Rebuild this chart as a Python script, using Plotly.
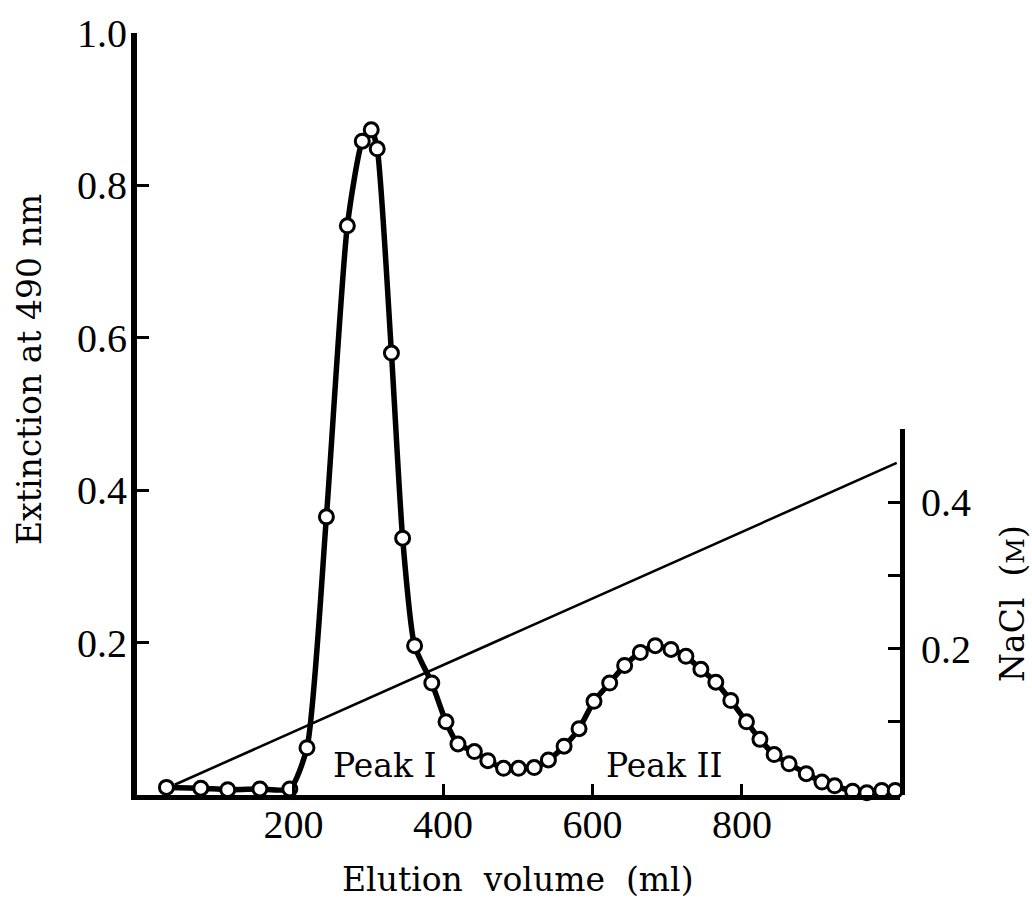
import plotly.graph_objects as go

# Elution profile (extinction at 490 nm) against elution volume
volume_ml = [30, 76, 112, 155, 195, 218, 244, 272, 292, 304, 312, 331, 346, 362, 385,
             404, 420, 442, 460, 481, 501, 522, 541, 562, 582, 602, 623, 643, 664, 684,
             705, 725, 745, 765, 785, 806, 824, 843, 863, 886, 907, 924, 948, 967, 987, 1005]
extinction = [0.010, 0.009, 0.007, 0.008, 0.008, 0.062, 0.365, 0.747, 0.858, 0.873,
              0.848, 0.580, 0.337, 0.196, 0.147, 0.096, 0.067, 0.057, 0.045, 0.035,
              0.035, 0.036, 0.046, 0.064, 0.087, 0.123, 0.147, 0.170, 0.187, 0.196,
              0.191, 0.182, 0.165, 0.148, 0.124, 0.096, 0.073, 0.053, 0.041, 0.028,
              0.017, 0.012, 0.005, 0.003, 0.006, 0.006]

# Linear NaCl gradient (right axis)
nacl_volume = [41, 1007]
nacl_molar = [0.014, 0.454]

x_ticks = [200, 400, 600, 800]
y_ticks = [0.2, 0.4, 0.6, 0.8, 1.0]
y_ticklabels = ["0.2", "0.4", "0.6", "0.8", "1.0"]
nacl_ticks = [0.1, 0.2, 0.3, 0.4, 0.5]
nacl_ticklabels = ["", "0.2", "", "0.4", ""]

peak_labels = ["Peak I", "Peak II"]
peak_label_x = [322, 696]
peak_label_y = [0.039, 0.039]

TICK_FONT = dict(family="Liberation Serif, Times New Roman, serif", size=40, color="black")
TITLE_FONT = dict(family="DejaVu Serif, serif", size=33, color="black")

fig = go.Figure()

fig.add_trace(go.Scatter(
    x=nacl_volume, y=nacl_molar, xaxis="x", yaxis="y2",
    mode="lines", line=dict(color="black", width=2.6),
    hoverinfo="skip", showlegend=False,
))

fig.add_trace(go.Scatter(
    x=volume_ml, y=extinction, xaxis="x", yaxis="y",
    mode="lines+markers",
    line=dict(color="black", width=5.5, shape="spline", smoothing=0.6),
    marker=dict(symbol="circle", size=14, color="white",
                line=dict(color="black", width=3)),
    cliponaxis=False, showlegend=False,
))

fig.update_layout(
    width=1032, height=905,
    margin=dict(l=137, r=132, t=33, b=110),
    paper_bgcolor="white", plot_bgcolor="rgba(0,0,0,0)",
    showlegend=False,
    xaxis=dict(
        range=[-9.4, 1011.4], domain=[0, 1], anchor="y",
        showgrid=False, zeroline=False,
        showline=True, linecolor="black", linewidth=5,
        ticks="inside", ticklen=11, tickwidth=3, tickcolor="black",
        tickvals=x_ticks, ticktext=[str(v) for v in x_ticks],
        tickfont=TICK_FONT, ticklabelstandoff=-10,
    ),
    yaxis=dict(
        range=[0, 1.0], domain=[0, 1], anchor="x",
        showgrid=False, zeroline=False,
        showline=True, linecolor="black", linewidth=6,
        ticks="inside", ticklen=12, tickwidth=3, tickcolor="black",
        tickvals=y_ticks, ticktext=y_ticklabels,
        tickfont=TICK_FONT, ticklabelstandoff=-4,
    ),
    yaxis2=dict(
        range=[0, 0.5], domain=[0, 0.48], anchor="x", side="right",
        showgrid=False, zeroline=False,
        showline=True, linecolor="black", linewidth=5,
        ticks="inside", ticklen=12, tickwidth=3, tickcolor="black",
        tickvals=nacl_ticks, ticktext=nacl_ticklabels,
        tickfont=TICK_FONT, ticklabelstandoff=8,
    ),
)

for text, px, py in zip(peak_labels, peak_label_x, peak_label_y):
    fig.add_annotation(x=px, y=py, xref="x", yref="y", text=text, showarrow=False,
                       xanchor="center", yanchor="middle", font=TITLE_FONT)

fig.add_annotation(x=0.499, y=-0.1115, xref="paper", yref="paper",
                   text="Elution\u00a0 volume\u00a0 (ml)", showarrow=False,
                   xanchor="center", yanchor="middle", font=TITLE_FONT)
fig.add_annotation(x=-0.140, y=0.558, xref="paper", yref="paper",
                   text="Extinction at 490 nm", textangle=-90, showarrow=False,
                   xanchor="center", yanchor="middle", font=TITLE_FONT)
fig.add_annotation(x=1.148, y=0.252, xref="paper", yref="paper",
                   text="NaCl\u00a0 (<span style='font-size:25px'>M</span>)",
                   textangle=-90, showarrow=False,
                   xanchor="center", yanchor="middle", font=TITLE_FONT)

fig.write_html("out.html")
